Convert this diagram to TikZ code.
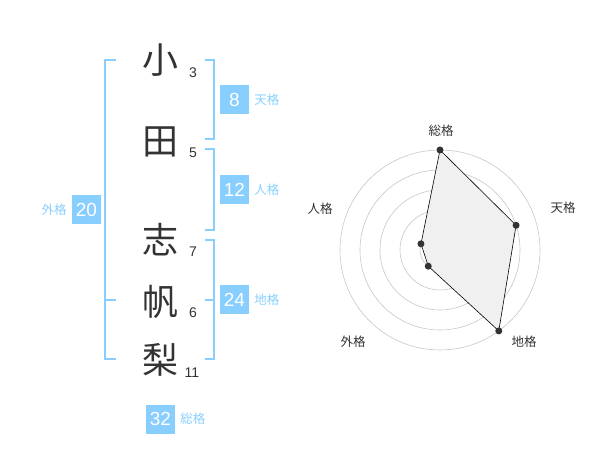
\documentclass[tikz,border=0pt]{standalone}
\usepackage{fontspec}
\setmainfont{Noto Sans CJK JP}
\newfontfamily\numfont{Liberation Sans}
\usetikzlibrary{positioning}
\definecolor{kaku}{HTML}{88CFFF}
\definecolor{ink}{HTML}{333333}

\begin{document}
\begin{tikzpicture}[x=1pt,y=-1pt,
		kanji/.style={text=ink,font=\fontsize{36}{36}\selectfont,inner sep=0pt},
		kakusu/.style={text=ink,font=\numfont\fontsize{14}{14}\selectfont,inner sep=0pt},
		kakubox/.style={fill=kaku,text=white,minimum size=29pt,inner sep=0pt,font=\numfont\fontsize{19}{19}\selectfont},
		kakuname/.style={text=kaku,font=\fontsize{12.5}{12.5}\selectfont,inner sep=0pt},
		bracket/.style={draw=kaku,line width=1.5pt},
		ring/.style={draw=black!22,line width=0.6pt},
		axisname/.style={text=ink,font=\fontsize{12.5}{12.5}\selectfont,inner sep=0pt}]
		\useasboundingbox (0,0) rectangle (600,470);
		% name
		\node[kanji] (k_1) at (160,60) {小};
		\node[kanji] (k_2) at (160,142) {田};
		\node[kanji] (k_3) at (160,240) {志};
		\node[kanji] (k_4) at (160,302) {帆};
		\node[kanji] (k_5) at (160,360) {梨};
		\node[kakusu] (s_1) at (193,73) {3};
		\node[kakusu] (s_2) at (193,153) {5};
		\node[kakusu] (s_3) at (193,252) {7};
		\node[kakusu] (s_4) at (193,313) {6};
		\node[kakusu] (s_5) at (192,373) {11};
		% brackets
		\draw[bracket] (116,60) -| (105,359) -- (116,359);
		\draw[bracket] (105,300) -- (116,300);
		\draw[bracket] (205,60) -| (214,139) -- (205,139);
		\draw[bracket] (205,149) -| (214,230) -- (205,230);
		\draw[bracket] (205,240) -| (214,359) -- (205,359);
		\draw[bracket] (214,300) -- (205,300);
		% kaku
		\node[kakubox] (g_ten) at (234.5,100) {8};
		\node[kakuname] [right=5pt of g_ten] {天格};
		\node[kakubox] (g_jin) at (234.5,190) {12};
		\node[kakuname] [right=5pt of g_jin] {人格};
		\node[kakubox] (g_chi) at (234.5,300) {24};
		\node[kakuname] [right=5pt of g_chi] {地格};
		\node[kakubox] (g_gai) at (86.5,210) {20};
		\node[kakuname] [left=5pt of g_gai] {外格};
		\node[kakubox] (g_so) at (160.5,419) {32};
		\node[kakuname] [right=5pt of g_so] {総格};
		% radar
		\coordinate (c) at (440,250);
		\foreach \r in {20,40,...,100}
			\draw[ring] (c) circle (\r);
		\fill[black!20] (c) circle (3);
		\foreach \a/\v/\n in {-90/100/1,-18/80/2,54/100/3,126/20/4,198/20/5}
			\coordinate (p_\n) at ([shift={(\a:\v)}]c);
		\node[axisname] (a_1) at (441,131) {総格};
		\node[axisname] (a_2) at (563,208) {天格};
		\node[axisname] (a_3) at (524,342) {地格};
		\node[axisname] (a_4) at (353,342) {外格};
		\node[axisname] (a_5) at (320,209) {人格};
		\draw[fill=black!6,line width=0.6pt] (p_1) -- (p_2) -- (p_3) -- (p_4) -- (p_5) -- cycle;
		\foreach \n in {1,...,5}
			\fill[ink] (p_\n) circle (3.5);
	\end{tikzpicture}
\end{document}
